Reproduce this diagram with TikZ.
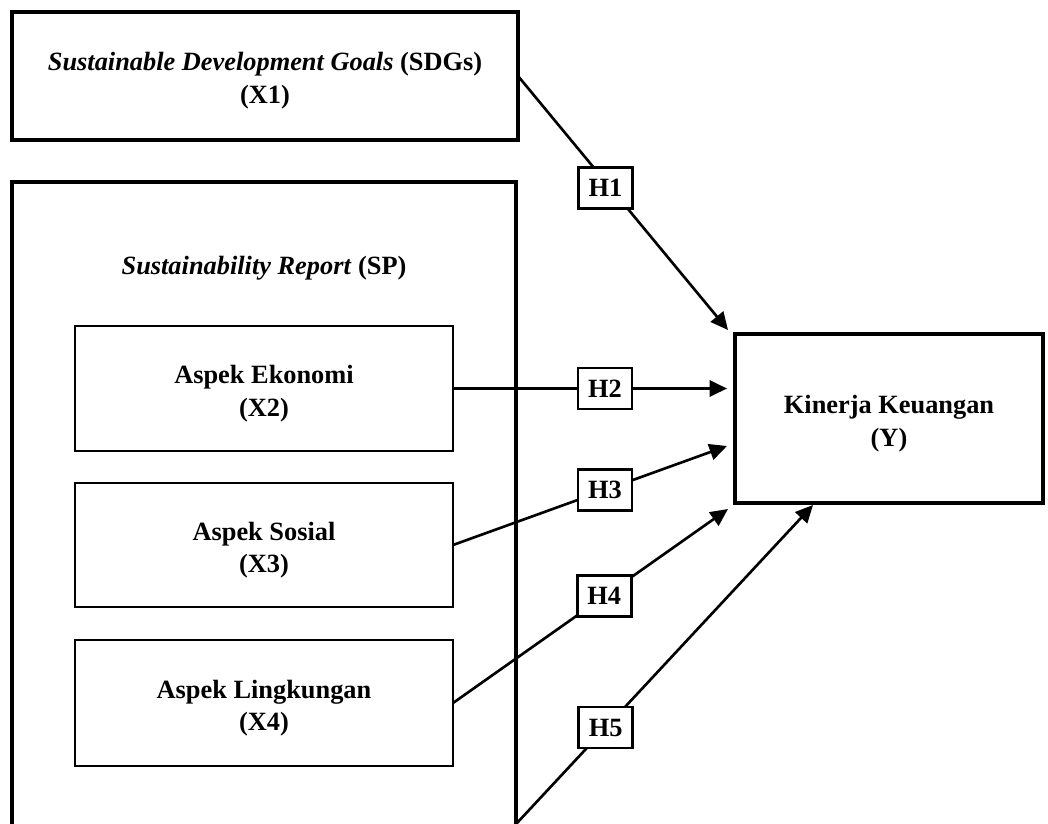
\documentclass[tikz,border=0pt]{standalone}
\usepackage{fontspec}
\setmainfont{Liberation Serif}
\usepackage{tikz}
\usetikzlibrary{arrows.meta}

\begin{document}
\begin{tikzpicture}[
	font=\fontsize{12}{15}\selectfont\bfseries,
	outerbox/.style={draw, line width=1.8pt, align=center, outer sep=0pt, text height=28pt},
	aspekbox/.style={draw, line width=1.3pt, align=center, outer sep=0pt, minimum width=6.048cm, text height=28pt},
	hbox/.style={draw, fill=white, line width=1.2pt, minimum width=0.864cm, minimum height=0.656cm, inner sep=0pt},
	hyp/.style={line width=1.2pt, -{Triangle[length=0.28cm, width=0.26cm]}}
]
	% Frame, boxes and arrows:
	\useasboundingbox (0, 0) rectangle (16.768, 13.168);
	\node[outerbox, minimum width=8.096cm, minimum height=2.048cm](x1) at (4.24, 11.952){\textit{Sustainable Development Goals} (SDGs)\\(X1)};
	\node[outerbox, minimum width=8.064cm, minimum height=10.556cm](sp) at (4.224, 4.978){};
	\node(splabel) at (4.224, 8.88){\textit{Sustainability Report} (SP)};
	\node[aspekbox, minimum height=2cm](eko) at (4.224, 6.952){Aspek Ekonomi\\(X2)};
	\node[aspekbox, minimum height=1.984cm](sos) at (4.224, 4.448){Aspek Sosial\\(X3)};
	\node[aspekbox, minimum height=2.016cm](lin) at (4.224, 1.92){Aspek Lingkungan\\(X4)};
	\node[outerbox, minimum width=4.928cm, minimum height=2.704cm](kin) at (14.224, 6.472){Kinerja Keuangan\\(Y)};
	\coordinate (s5) at (8.272, 0);
	\coordinate (t1) at (11.648, 7.888);
	\coordinate (t2) at (11.632, 6.952);
	\coordinate (t3) at (11.632, 6.032);
	\coordinate (t4) at (11.648, 5.024);
	\coordinate (t5) at (13.008, 5.088);
	\draw[hyp] (x1.east) -- node[hbox, pos=0.44, xshift=-0.08cm]{H1} (t1);
	\draw[hyp] (eko.east) -- node[hbox, pos=0.555]{H2} (t2);
	\draw[hyp] (sos.east) -- node[hbox, pos=0.555]{H3} (t3);
	\draw[hyp] (lin.east) -- node[hbox, pos=0.55]{H4} (t4);
	\draw[hyp] (s5) -- node[hbox, pos=0.3]{H5} (t5);
\end{tikzpicture}
\end{document}
